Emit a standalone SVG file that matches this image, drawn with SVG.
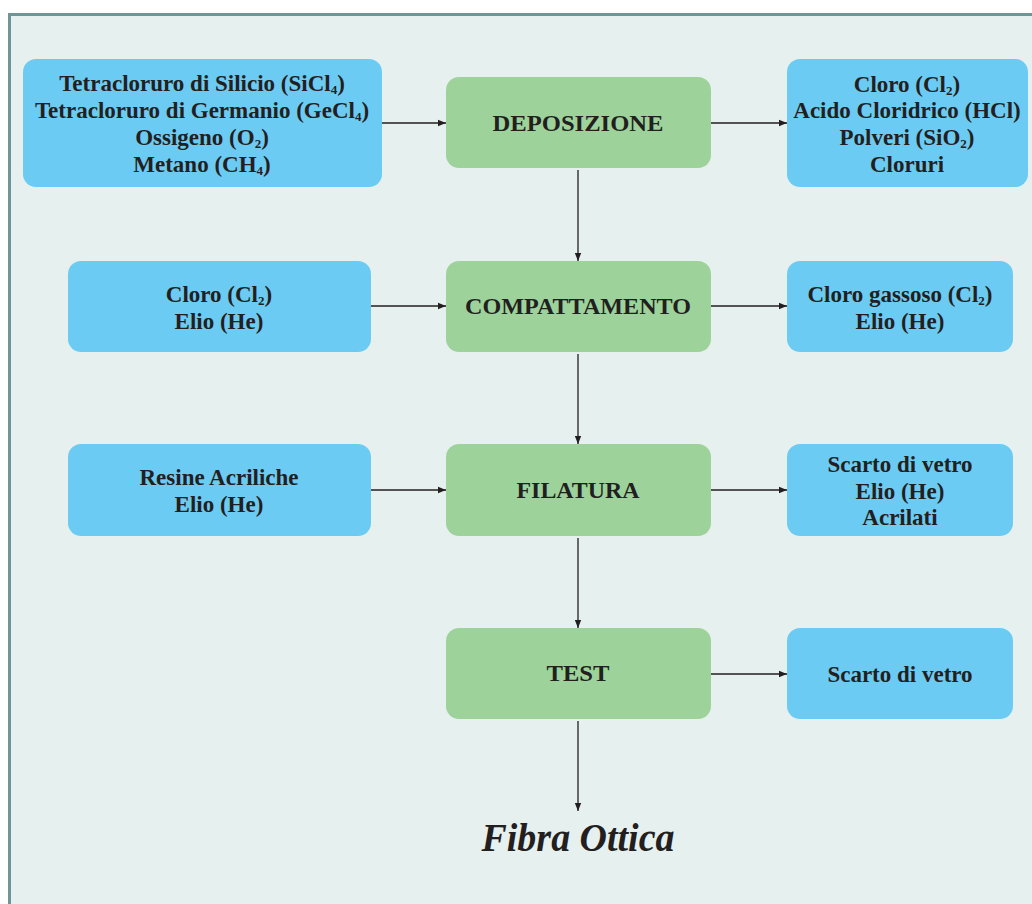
<svg xmlns="http://www.w3.org/2000/svg" width="1032" height="904" viewBox="0 0 1032 904">
<style>
.frame{fill:#e6f0ef;stroke:#6f9597;stroke-width:3}
.in{fill:#6ccbf3}
.proc{fill:#9dd39b}
.t{font-family:"Liberation Serif",serif;font-weight:bold;font-size:23px;fill:#231f20;text-anchor:middle}
.sub{font-size:13px}
.c{stroke:#231f20;stroke-width:1.3;fill:none;marker-end:url(#ah)}
.fo{font-family:"Liberation Serif",serif;font-weight:bold;font-style:italic;font-size:40px;fill:#231f20;text-anchor:middle}
</style>
<defs>
<marker id="ah" viewBox="0 0 10 10" refX="10" refY="5" markerWidth="8" markerHeight="8" markerUnits="userSpaceOnUse" orient="auto">
<path d="M0,1 L10,5 L0,9 Z" fill="#231f20"/>
</marker>
</defs>
<rect x="0" y="0" width="1032" height="904" fill="#ffffff"/>
<rect class="frame" x="9.5" y="14.5" width="1040" height="900"/>
<g id="connectors">
<line class="c" x1="382" y1="123" x2="446" y2="123"/>
<line class="c" x1="711" y1="123" x2="787" y2="123"/>
<line class="c" x1="578" y1="170" x2="578" y2="261"/>
<line class="c" x1="371" y1="306" x2="446" y2="306"/>
<line class="c" x1="711" y1="306" x2="787" y2="306"/>
<line class="c" x1="578" y1="354" x2="578" y2="444"/>
<line class="c" x1="371" y1="490" x2="446" y2="490"/>
<line class="c" x1="711" y1="490" x2="787" y2="490"/>
<line class="c" x1="578" y1="538" x2="578" y2="628"/>
<line class="c" x1="711" y1="674" x2="787" y2="674"/>
<line class="c" x1="578" y1="721" x2="578" y2="811"/>
</g>
<g id="in1">
<rect class="in" x="23" y="59" width="359" height="128" rx="13"/>
<text class="t" x="202" y="91">Tetracloruro di Silicio (SiCl<tspan class="sub" dy="3">4</tspan><tspan dy="-3">)</tspan></text>
<text class="t" x="202" y="118">Tetracloruro di Germanio (GeCl<tspan class="sub" dy="3">4</tspan><tspan dy="-3">)</tspan></text>
<text class="t" x="202" y="145">Ossigeno (O<tspan class="sub" dy="3">2</tspan><tspan dy="-3">)</tspan></text>
<text class="t" x="202" y="172">Metano (CH<tspan class="sub" dy="3">4</tspan><tspan dy="-3">)</tspan></text>
</g>
<g id="deposizione">
<rect class="proc" x="446" y="77" width="265" height="91" rx="13"/>
<text class="t" x="578" y="131" textLength="171" lengthAdjust="spacingAndGlyphs">DEPOSIZIONE</text>
</g>
<g id="out1">
<rect class="in" x="787" y="59" width="241" height="128" rx="13"/>
<text class="t" x="907" y="92">Cloro (Cl<tspan class="sub" dy="3">2</tspan><tspan dy="-3">)</tspan></text>
<text class="t" x="907" y="118">Acido Cloridrico (HCl)</text>
<text class="t" x="907" y="145">Polveri (SiO<tspan class="sub" dy="3">2</tspan><tspan dy="-3">)</tspan></text>
<text class="t" x="907" y="172">Cloruri</text>
</g>
<g id="in2">
<rect class="in" x="68" y="261" width="303" height="91" rx="13"/>
<text class="t" x="219" y="302">Cloro (Cl<tspan class="sub" dy="3">2</tspan><tspan dy="-3">)</tspan></text>
<text class="t" x="219" y="329">Elio (He)</text>
</g>
<g id="compattamento">
<rect class="proc" x="446" y="261" width="265" height="91" rx="13"/>
<text class="t" x="578" y="314" textLength="226" lengthAdjust="spacingAndGlyphs">COMPATTAMENTO</text>
</g>
<g id="out2">
<rect class="in" x="787" y="261" width="226" height="91" rx="13"/>
<text class="t" x="900" y="302">Cloro gassoso (Cl<tspan class="sub" dy="3">2</tspan><tspan dy="-3">)</tspan></text>
<text class="t" x="900" y="329">Elio (He)</text>
</g>
<g id="in3">
<rect class="in" x="68" y="444" width="303" height="92" rx="13"/>
<text class="t" x="219" y="485">Resine Acriliche</text>
<text class="t" x="219" y="512">Elio (He)</text>
</g>
<g id="filatura">
<rect class="proc" x="446" y="444" width="265" height="92" rx="13"/>
<text class="t" x="578" y="498" textLength="123" lengthAdjust="spacingAndGlyphs">FILATURA</text>
</g>
<g id="out3">
<rect class="in" x="787" y="444" width="226" height="92" rx="13"/>
<text class="t" x="900" y="472">Scarto di vetro</text>
<text class="t" x="900" y="499">Elio (He)</text>
<text class="t" x="900" y="525">Acrilati</text>
</g>
<g id="test">
<rect class="proc" x="446" y="628" width="265" height="91" rx="13"/>
<text class="t" x="578" y="681" textLength="63" lengthAdjust="spacingAndGlyphs">TEST</text>
</g>
<g id="out4">
<rect class="in" x="787" y="628" width="226" height="91" rx="13"/>
<text class="t" x="900" y="682">Scarto di vetro</text>
</g>
<g id="fibra">
<text class="fo" x="578" y="851" textLength="193" lengthAdjust="spacingAndGlyphs">Fibra Ottica</text>
</g>
</svg>
